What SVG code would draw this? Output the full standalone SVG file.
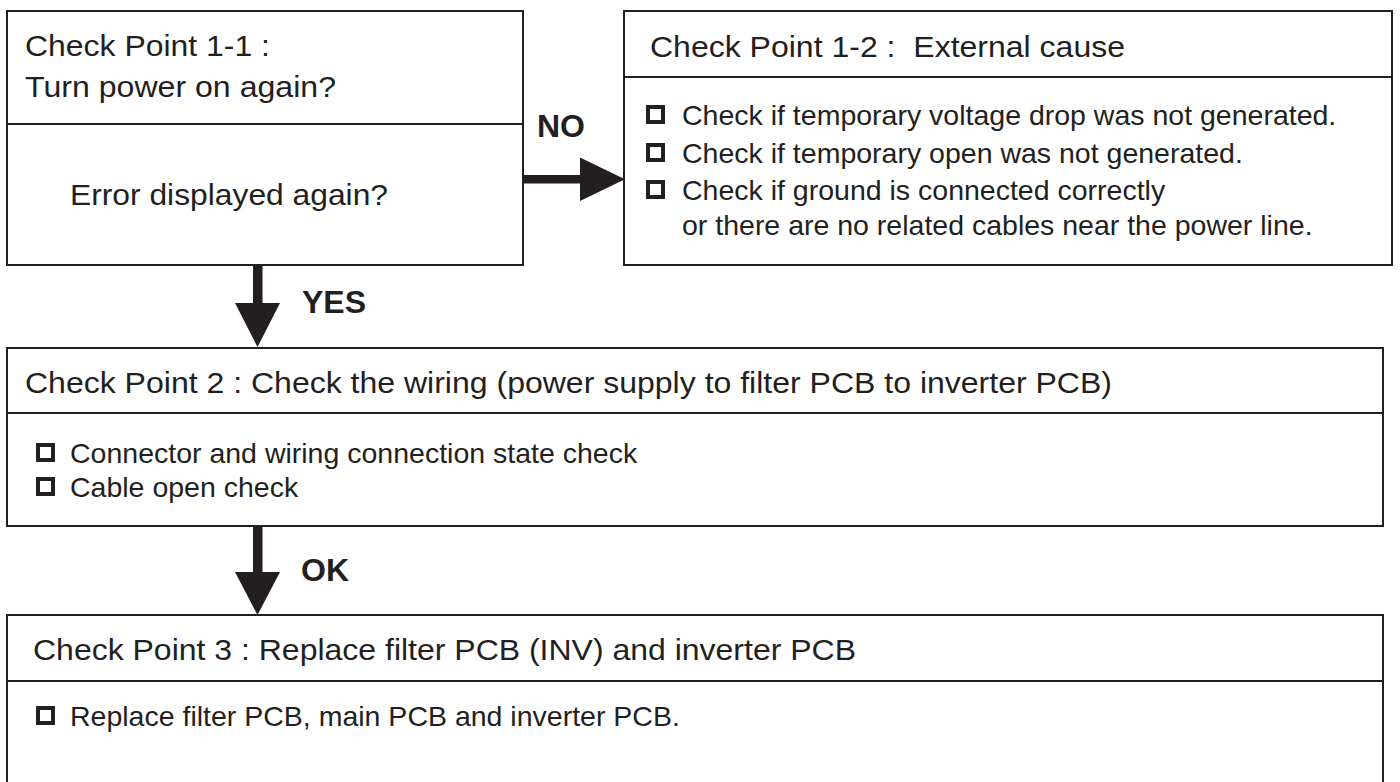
<svg xmlns="http://www.w3.org/2000/svg" width="1400" height="782" viewBox="0 0 1400 782">
<style>
.box{fill:#fff;stroke:#231f20;stroke-width:2}
.div{stroke:#231f20;stroke-width:2}
.t{font-family:"Liberation Sans",Arial,sans-serif;font-size:30px;fill:#231f20}
.b{font-family:"Liberation Sans",Arial,sans-serif;font-size:28.5px;fill:#231f20}
.lbl{font-family:"Liberation Sans",Arial,sans-serif;font-size:32px;font-weight:bold;fill:#231f20}
.chk{fill:none;stroke:#231f20;stroke-width:4}
.arr{fill:#231f20}
</style>
<rect width="1400" height="782" fill="#fff"/>
<g id="cp11">
<rect class="box" x="7" y="11" width="516" height="254"/>
<line class="div" x1="7" y1="124" x2="523" y2="124"/>
<text class="t" x="25" y="56" textLength="245" lengthAdjust="spacingAndGlyphs">Check Point 1-1 :</text>
<text class="t" x="25" y="97" textLength="311" lengthAdjust="spacingAndGlyphs">Turn power on again?</text>
<text class="t" x="70" y="205" textLength="318" lengthAdjust="spacingAndGlyphs">Error displayed again?</text>
</g>
<g id="cp12">
<rect class="box" x="624" y="11" width="768" height="254"/>
<line class="div" x1="624" y1="77" x2="1392" y2="77"/>
<text class="t" x="650" y="57" textLength="475" lengthAdjust="spacingAndGlyphs">Check Point 1-2 :&#160; External cause</text>
<rect class="chk" x="648" y="107" width="15" height="15"/>
<text class="b" x="682" y="125">Check if temporary voltage drop was not generated.</text>
<rect class="chk" x="648" y="145" width="15" height="15"/>
<text class="b" x="682" y="163">Check if temporary open was not generated.</text>
<rect class="chk" x="648" y="182" width="15" height="15"/>
<text class="b" x="682" y="200">Check if ground is connected correctly</text>
<text class="b" x="682" y="235">or there are no related cables near the power line.</text>
</g>
<g id="cp2">
<rect class="box" x="7" y="348" width="1376" height="178"/>
<line class="div" x1="7" y1="413" x2="1383" y2="413"/>
<text class="t" x="25" y="393" textLength="1087" lengthAdjust="spacingAndGlyphs">Check Point 2 : Check the wiring (power supply to filter PCB to inverter PCB)</text>
<rect class="chk" x="38" y="445" width="15" height="15"/>
<text class="b" x="70" y="463">Connector and wiring connection state check</text>
<rect class="chk" x="38" y="479" width="15" height="15"/>
<text class="b" x="70" y="497">Cable open check</text>
</g>
<g id="cp3">
<rect class="box" x="7" y="615" width="1376" height="190"/>
<line class="div" x1="7" y1="681" x2="1383" y2="681"/>
<text class="t" x="33" y="660" textLength="823" lengthAdjust="spacingAndGlyphs">Check Point 3 : Replace filter PCB (INV) and inverter PCB</text>
<rect class="chk" x="38" y="708" width="15" height="15"/>
<text class="b" x="70" y="726">Replace filter PCB, main PCB and inverter PCB.</text>
</g>
<g id="connectors">
<rect class="arr" x="523" y="175" width="59" height="8.5"/>
<polygon class="arr" points="580,157.5 625,179.3 580,201"/>
<text class="lbl" x="537" y="137">NO</text>
<rect class="arr" x="253" y="265" width="9.5" height="40"/>
<polygon class="arr" points="235,303 280,303 257.5,347"/>
<text class="lbl" x="302" y="313">YES</text>
<rect class="arr" x="253" y="526" width="9.5" height="48"/>
<polygon class="arr" points="235,572 280,572 257.5,615"/>
<text class="lbl" x="301" y="581">OK</text>
</g>
</svg>
